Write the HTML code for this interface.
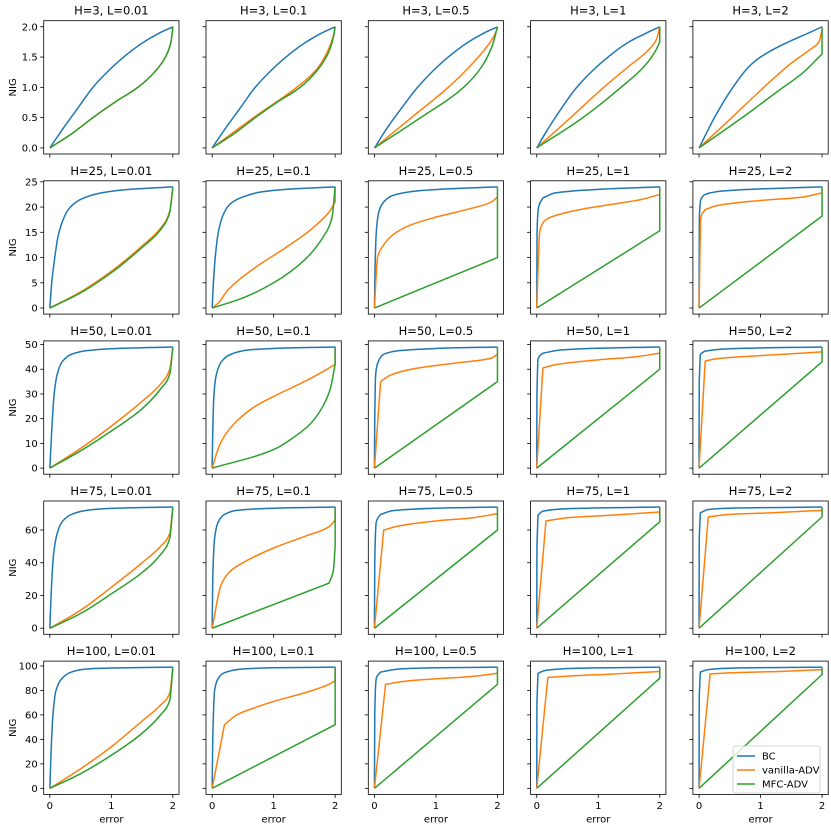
<!DOCTYPE html>
<html><head><meta charset="utf-8"><style>
body{margin:0;background:#fff}
svg{display:block;font-family:"DejaVu Sans","Liberation Sans",sans-serif}
</style></head><body>
<svg id="fig" width="831" height="831" viewBox="0 0 831 831" xmlns="http://www.w3.org/2000/svg"></svg>
<script>
const Hs=[3,25,50,75,100];
const Ls=['0.01','0.1','0.5','1','2'];
const yMax=[2,24,49,74,99];
const yTicks=[[0,0.5,1,1.5,2],[0,5,10,15,20,25],[0,10,20,30,40,50],[0,20,40,60],[0,20,40,60,80,100]];
const yTickLabels=[['0.0','0.5','1.0','1.5','2.0'],['0','5','10','15','20','25'],['0','10','20','30','40','50'],['0','20','40','60'],['0','20','40','60','80','100']];
const xTicks=[0,1,2];
const seriesNames=['BC','vanilla-ADV','MFC-ADV'];
const colors=['#1f77b4','#ff7f0e','#2ca02c'];
// bc[row][col], van[row][col], mfc[row][col] : [error, NIG] points
const bc=[
[[[0,0],[0.2,0.3],[0.45,0.65],[0.7,1.0],[0.95,1.27],[1.2,1.5],[1.5,1.73],[1.75,1.88],[2,2]],
 [[0,0],[0.2,0.3],[0.45,0.65],[0.7,1.0],[0.95,1.27],[1.2,1.5],[1.5,1.73],[1.75,1.88],[2,2]],
 [[0,0],[0.2,0.32],[0.45,0.67],[0.7,1.0],[0.95,1.27],[1.2,1.5],[1.5,1.73],[1.75,1.88],[2,2]],
 [[0,0],[0.15,0.26],[0.3,0.5],[0.65,1.0],[1.1,1.45],[1.5,1.75],[1.75,1.88],[2,2]],
 [[0,0],[0.25,0.5],[0.55,1.0],[0.8,1.33],[1,1.5],[2,2]]],
[[[0,0],[0.03,5],[0.08,10],[0.13,14],[0.2,17],[0.3,19.5],[0.5,21.5],[0.8,22.7],[1.2,23.4],[2,24]],
 [[0,0],[0.02,5],[0.05,10],[0.1,15],[0.18,18.5],[0.3,20.7],[0.5,22],[0.8,23],[1.2,23.5],[2,24]],
 [[0,0],[0.01,8],[0.03,15],[0.07,19],[0.15,21],[0.3,22.3],[0.7,23.2],[1.2,23.6],[2,24]],
 [[0,0],[0.005,15],[0.03,20],[0.1,21.8],[0.3,22.8],[1,23.5],[2,24]],
 [[0,0],[0.005,18],[0.03,21.5],[0.1,22.5],[0.4,23.2],[1,23.6],[2,24]]],
[[[0,0],[0.03,15],[0.07,30],[0.12,38],[0.2,43],[0.35,46],[0.6,47.5],[1,48.3],[2,49]],
 [[0,0],[0.01,15],[0.03,30],[0.07,38],[0.15,43],[0.3,46],[0.6,47.8],[1,48.4],[2,49]],
 [[0,0],[0.005,20],[0.02,38],[0.06,43],[0.15,46],[0.4,47.5],[1,48.4],[2,49]],
 [[0,0],[0.003,30],[0.02,44],[0.1,46.5],[0.4,47.8],[1,48.5],[2,49]],
 [[0,0],[0.003,35],[0.02,46],[0.1,47.3],[0.5,48.3],[2,49]]],
[[[0,0],[0.02,20],[0.06,45],[0.12,58],[0.2,65],[0.35,69.5],[0.6,72],[1,73.2],[2,74]],
 [[0,0],[0.01,30],[0.04,55],[0.1,65],[0.2,69.5],[0.4,72],[1,73.3],[2,74]],
 [[0,0],[0.005,40],[0.03,65],[0.1,69.5],[0.3,71.8],[1,73.3],[2,74]],
 [[0,0],[0.003,50],[0.02,69],[0.1,71.5],[0.5,73],[2,74]],
 [[0,0],[0.003,55],[0.02,70.5],[0.15,72.5],[0.6,73.4],[2,74]]],
[[[0,0],[0.02,30],[0.05,60],[0.1,80],[0.2,90],[0.35,95],[0.6,97.5],[1,98.3],[2,99]],
 [[0,0],[0.01,40],[0.04,80],[0.1,90],[0.2,94.5],[0.5,97.5],[1,98.5],[2,99]],
 [[0,0],[0.005,60],[0.03,90],[0.1,95],[0.4,97.5],[1,98.5],[2,99]],
 [[0,0],[0.003,70],[0.02,94],[0.15,96.5],[0.6,98],[2,99]],
 [[0,0],[0.003,75],[0.02,95],[0.15,97],[0.6,98.3],[2,99]]]
];
const van=[
[[[0,0],[0.35,0.23],[0.7,0.5],[1.05,0.75],[1.43,1.0],[1.7,1.25],[1.88,1.5],[1.97,1.75],[2,2]],
 [[0,0],[0.7,0.52],[1.4,1.02],[1.7,1.3],[1.88,1.6],[1.97,1.85],[2,2]],
 [[0,0],[0.6,0.5],[1.2,1.0],[1.6,1.4],[1.85,1.7],[1.97,1.9],[2,2]],
 [[0,0],[0.55,0.5],[1.09,1.0],[1.5,1.35],[1.8,1.6],[1.95,1.8],[2,2]],
 [[0,0],[0.5,0.47],[1,0.95],[1.5,1.4],[1.8,1.62],[1.95,1.75],[2,1.95]]],
[[[0,0],[0.5,3.2],[1,7.3],[1.5,12.3],[1.8,15.8],[1.95,19.2],[2,24]],
 [[0,0],[0.1,1],[0.25,3.5],[0.7,8],[1.2,12],[1.6,15.5],[1.9,19],[2,21],[2,24]],
 [[0,0],[0.05,10],[0.15,12.5],[0.3,14.5],[0.6,16.5],[1,18],[1.5,19.5],[1.9,21],[2,22]],
 [[0,0],[0.05,15.3],[0.15,17.5],[0.3,18.3],[0.7,19.5],[1.2,20.5],[1.7,21.5],[2,22.5]],
 [[0,0],[0.03,18],[0.1,19.5],[0.3,20.3],[1,21.3],[1.7,22],[2,22.8]]],
[[[0,0],[0.5,8],[1,17],[1.5,27],[1.8,34],[1.95,40],[2,49]],
 [[0,0],[0.1,8],[0.2,13],[0.4,19],[0.7,25],[1,29],[1.5,35],[1.8,39],[2,42],[2,49]],
 [[0,0],[0.1,35],[0.25,37.5],[0.6,40],[1,41.5],[1.5,43],[1.9,44.5],[2,46]],
 [[0,0],[0.1,40.5],[0.3,41.8],[1,43.8],[1.6,45],[2,46.5]],
 [[0,0],[0.1,43.3],[0.3,44.3],[1,45.5],[2,47]]],
[[[0,0],[0.5,11],[1,25],[1.5,40],[1.8,50],[1.95,58],[2,74]],
 [[0,0],[0.15,27],[0.3,35],[0.5,40],[1,49],[1.5,56],[1.9,62],[2,66],[2,74]],
 [[0,0],[0.15,60],[0.4,62.5],[1,65.5],[1.6,67.5],[2,70]],
 [[0,0],[0.15,65.5],[0.5,67.5],[1.2,69],[2,71]],
 [[0,0],[0.15,68],[0.5,69.5],[1.2,70.5],[2,72]]],
[[[0,0],[0.5,16],[1,34],[1.5,55],[1.8,68],[1.95,78],[2,99]],
 [[0,0],[0.2,52],[0.4,60],[0.7,66],[1,71],[1.5,78],[1.9,85],[2,88],[2,99]],
 [[0,0],[0.18,85],[0.5,87.5],[1,89.5],[1.6,91.5],[2,94]],
 [[0,0],[0.18,90.5],[0.6,92],[1.3,93.5],[2,95.5]],
 [[0,0],[0.18,93.5],[0.6,94.5],[1.3,95.5],[2,97]]]
];
const mfc=[
[[[0,0],[0.35,0.23],[0.7,0.5],[1.05,0.75],[1.43,1.0],[1.7,1.25],[1.88,1.5],[1.97,1.75],[2,2]],
 [[0,0],[0.35,0.23],[0.7,0.5],[1.05,0.75],[1.43,1.0],[1.7,1.27],[1.88,1.55],[1.97,1.82],[2,2]],
 [[0,0],[0.75,0.5],[1.45,1.0],[1.75,1.35],[1.92,1.7],[2,2]],
 [[0,0],[0.75,0.5],[1.37,1.0],[1.75,1.35],[1.93,1.6],[2,1.75],[2,2]],
 [[0,0],[0.7,0.5],[1.3,0.95],[1.7,1.25],[1.95,1.5],[2,1.55],[2,2]]],
[[[0,0],[0.5,3],[1,7],[1.5,12],[1.8,15.5],[1.95,19],[2,24]],
 [[0,0],[0.5,2],[1,5],[1.5,9.5],[1.8,14],[1.95,18],[2,24]],
 [[0,0],[2,10],[2,24]],
 [[0,0],[2,15.3],[2,24]],
 [[0,0],[2,18.2],[2,24]]],
[[[0,0],[0.5,7],[1,15],[1.5,24],[1.8,32],[1.95,38],[2,49]],
 [[0,0],[1,7.5],[1.3,12],[1.6,18],[1.8,25],[1.92,32],[2,42],[2,49]],
 [[0,0],[2,35],[2,49]],
 [[0,0],[2,40],[2,49]],
 [[0,0],[2,43],[2,49]]],
[[[0,0],[0.5,9],[1,21],[1.5,34],[1.8,45],[1.95,55],[2,74]],
 [[0,0],[1.9,27.5],[1.97,35],[2,50],[2,74]],
 [[0,0],[2,60],[2,74]],
 [[0,0],[2,65],[2,74]],
 [[0,0],[2,68],[2,74]]],
[[[0,0],[0.5,12],[1,27],[1.5,45],[1.8,60],[1.95,72],[2,99]],
 [[0,0],[2,52],[2,99]],
 [[0,0],[2,85],[2,99]],
 [[0,0],[2,90],[2,99]],
 [[0,0],[2,93],[2,99]]]
];
const NS='http://www.w3.org/2000/svg';
const svg=document.getElementById('fig');
function mk(tag,attrs,parent){const e=document.createElementNS(NS,tag);for(const k in attrs)e.setAttribute(k,attrs[k]);(parent||svg).appendChild(e);return e;}
const f=v=>v.toFixed(2);
// monotone cubic (in x) over a run of pixel points with strictly increasing x
function monoRun(P){
  const n=P.length;let s='';
  if(n<3){for(let i=1;i<n;i++)s+=' L'+f(P[i][0])+','+f(P[i][1]);return s;}
  const h=[],m=[];
  for(let i=0;i<n-1;i++){h.push(P[i+1][0]-P[i][0]);m.push((P[i+1][1]-P[i][1])/h[i]);}
  const t=new Array(n);
  t[0]=m[0];t[n-1]=m[n-2];
  for(let i=1;i<n-1;i++){
    if(m[i-1]*m[i]<=0)t[i]=0;
    else{const w1=2*h[i]+h[i-1],w2=h[i]+2*h[i-1];t[i]=(w1+w2)/(w1/m[i-1]+w2/m[i]);}
  }
  for(let i=0;i<n-1;i++){
    const d=h[i]/3;
    s+=' C'+f(P[i][0]+d)+','+f(P[i][1]+d*t[i])+' '+f(P[i+1][0]-d)+','+f(P[i+1][1]-d*t[i+1])+' '+f(P[i+1][0])+','+f(P[i+1][1]);
  }
  return s;
}
function buildPath(P){
  // split into runs at vertical segments and sharp corners
  let s='M'+f(P[0][0])+','+f(P[0][1]);
  let run=[P[0]];
  const ang=(a,b)=>Math.atan2(b[1]-a[1],b[0]-a[0]);
  for(let i=1;i<P.length;i++){
    const dx=P[i][0]-P[i-1][0];
    if(dx<0.3){ // vertical-ish segment: flush run, draw line
      s+=monoRun(run);s+=' L'+f(P[i][0])+','+f(P[i][1]);run=[P[i]];continue;
    }
    if(run.length>=2){
      const a1=ang(run[run.length-2],run[run.length-1]),a2=ang(P[i-1],P[i]);
      if(Math.abs(a1-a2)>0.7){s+=monoRun(run);run=[P[i-1]];}
    }
    run.push(P[i]);
  }
  s+=monoRun(run);
  return s;
}
const L0=43.7,PW=135.3,CP=162.3,T0=20.7,PH=133.3,RP=160.1;
for(let r=0;r<5;r++){for(let c=0;c<5;c++){
  const left=L0+c*CP,top=T0+r*RP;
  const g=mk('g',{});
  
  
  const m=yMax[r];
  const xs=v=>left+(v+0.1)/2.2*PW;
  const ys=v=>top+PH-(v+0.05*m)/(1.1*m)*PH;
  const t=mk('text',{x:left+PW/2,y:top-6,'text-anchor':'middle','font-size':'11.5',fill:'#000'},g);
  t.textContent='H='+Hs[r]+', L='+Ls[c];
  
  
  [[bc,0],[van,1],[mfc,2]].forEach(([arr,i])=>{
    const P=arr[r][c].map(p=>[xs(p[0]),ys(p[1])]);
    const pl=mk('path',{d:buildPath(P),fill:'none',stroke:colors[i],'stroke-width':1.5,'stroke-linejoin':'round'},g);
    
    
  });
  const fr=mk('rect',{x:left,y:top,width:PW,height:PH,fill:'none',stroke:'#000','stroke-width':0.8},g);
  
  
  yTicks[r].forEach((v,i)=>{
    mk('line',{x1:left,x2:left-3.5,y1:ys(v),y2:ys(v),stroke:'#000','stroke-width':0.8},g);
    if(c===0){const tl=mk('text',{x:left-6,y:ys(v)+3.5,'text-anchor':'end','font-size':'10',fill:'#000'},g);tl.textContent=yTickLabels[r][i];
      
      }
  });
  xTicks.forEach(v=>{
    mk('line',{x1:xs(v),x2:xs(v),y1:top+PH,y2:top+PH+3.5,stroke:'#000','stroke-width':0.8},g);
    if(r===4){const tl=mk('text',{x:xs(v),y:top+PH+14.5,'text-anchor':'middle','font-size':'10',fill:'#000'},g);tl.textContent=String(v);
      
      }
  });
  if(c===0){const yl=mk('text',{x:0,y:0,'text-anchor':'middle','font-size':'10',fill:'#000',transform:'translate(16,'+(top+PH/2)+') rotate(-90)'},g);yl.textContent='NIG';
    
    }
  if(r===4){const xl=mk('text',{x:left+PW/2,y:top+PH+28,'text-anchor':'middle','font-size':'10',fill:'#000'},g);xl.textContent='error';
    
    }
}}
const lg=mk('g',{});


mk('rect',{x:733,y:746,width:87,height:47,rx:2,fill:'#fff','fill-opacity':0.8,stroke:'#ccc','stroke-width':0.8},lg);
seriesNames.forEach((n,i)=>{
  const yy=756+i*14;
  mk('line',{x1:737,x2:755,y1:yy,y2:yy,stroke:colors[i],'stroke-width':1.5},lg);
  const tx=mk('text',{x:762,y:yy+3.5,'font-size':'10',fill:'#000'},lg);tx.textContent=n;
  
  
});
</script>
</body></html>
